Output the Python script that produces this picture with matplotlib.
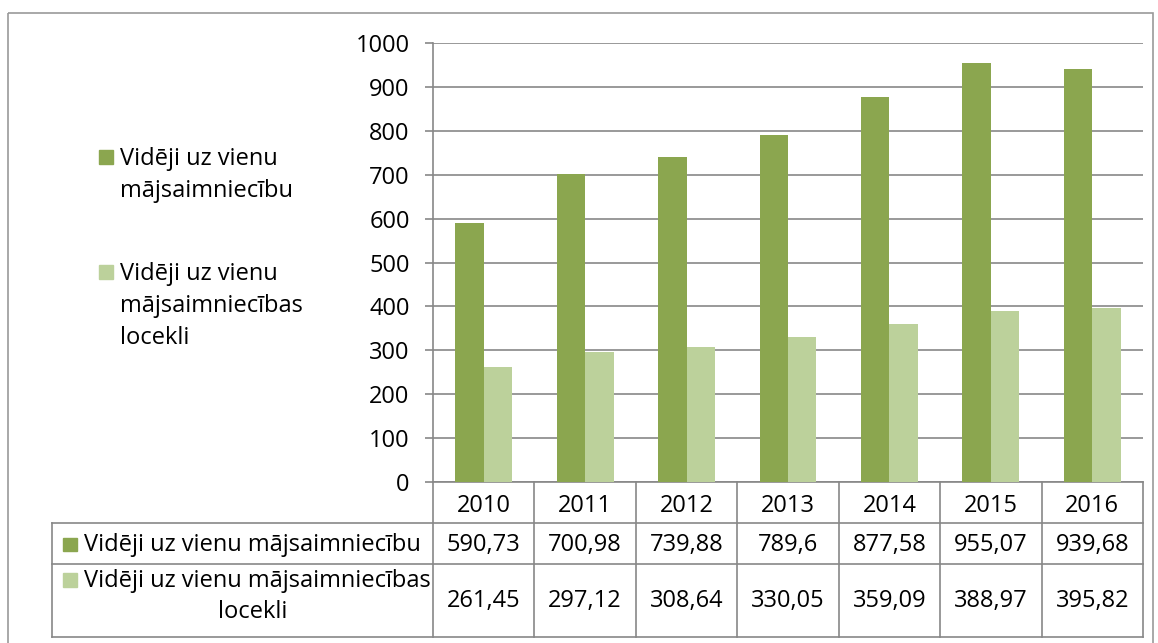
import numpy as np
import matplotlib.pyplot as plt
from matplotlib.patches import Rectangle

# dati
years = ["2010", "2011", "2012", "2013", "2014", "2015", "2016"]
per_household = [590.73, 700.98, 739.88, 789.6, 877.58, 955.07, 939.68]
per_member = [261.45, 297.12, 308.64, 330.05, 359.09, 388.97, 395.82]
label_household = "Vidēji uz vienu mājsaimniecību"
label_member = "Vidēji uz vienu mājsaimniecības locekli"
yticks = [0, 100, 200, 300, 400, 500, 600, 700, 800, 900, 1000]

dark = "#8BA64F"
light = "#BCD19B"
grid_c = "#878787"
fs = 17
plt.rcParams['font.family'] = ['Open Sans', 'DejaVu Sans']

W, H = 1158, 643
fig = plt.figure(figsize=(W / 100, H / 100), dpi=100)

# plot area in pixels
x0, x1, ytop, ybot = 433, 1143, 43, 482
ax = fig.add_axes([x0 / W, 1 - ybot / H, (x1 - x0) / W, (ybot - ytop) / H])
x = np.arange(len(years))
bw = 0.28
ax.bar(x - bw / 2, per_household, bw, color=dark, zorder=3)
ax.bar(x + bw / 2, per_member, bw, color=light, zorder=3)
ax.set_xlim(-0.5, len(years) - 0.5)
ax.set_ylim(0, 1000)
ax.set_yticks(yticks)
ax.set_xticks([])
ax.yaxis.grid(True, color=grid_c, linewidth=1.2)
ax.set_axisbelow(True)
for s in ["top", "right"]:
    ax.spines[s].set_visible(False)
ax.spines["left"].set_color(grid_c)
ax.spines["bottom"].set_color(grid_c)
ax.spines["left"].set_linewidth(1.2)
ax.spines["bottom"].set_linewidth(1.2)
ax.tick_params(axis="y", length=5.8, width=1.2, color=grid_c, labelsize=fs, pad=11)

# overlay in pixel coordinates for table, legend, frame
ov = fig.add_axes([0, 0, 1, 1])
ov.set_xlim(0, W)
ov.set_ylim(H, 0)
ov.axis("off")

# outer frame
ov.add_patch(Rectangle((8, 13), 1145, 640, fill=False, edgecolor="#9a9a9a", lw=1.2))

# table
colw = (x1 - x0) / len(years)
r0, r1, r2, r3 = ybot, 523, 564, 637
lx = 52
lc = dict(color=grid_c, lw=1.2)
for i in range(len(years) + 1):
    xx = x0 + i * colw
    ov.plot([xx, xx], [r0, r3], **lc)
ov.plot([lx, lx], [r1, r3], **lc)
for yy in [r1, r2, r3]:
    ov.plot([lx, x1], [yy, yy], **lc)
for i, yr in enumerate(years):
    cx = x0 + (i + 0.5) * colw
    ov.text(cx, 512, yr, ha="center", va="baseline", fontsize=fs)
    ov.text(cx, 551, str(per_household[i]).replace(".", ","),
            ha="center", va="baseline", fontsize=fs)
    ov.text(cx, (r2 + r3) / 2, str(per_member[i]).replace(".", ","),
            ha="center", va="center", fontsize=fs)
ov.add_patch(Rectangle((63, 538), 14, 13, color=dark))
ov.text(84, 551, label_household, ha="left", va="baseline", fontsize=fs)
ov.add_patch(Rectangle((63, 573), 14, 14, color=light))
ov.text(84, 587, "Vidēji uz vienu mājsaimniecības", ha="left", va="baseline", fontsize=fs)
ov.text(253, 618, "locekli", ha="center", va="baseline", fontsize=fs)

# legend
ov.add_patch(Rectangle((99, 150), 14, 14, color=dark))
for j, line in enumerate(["Vidēji uz vienu", "mājsaimniecību"]):
    ov.text(120, 165 + 32 * j, line, ha="left", va="baseline", fontsize=fs)
ov.add_patch(Rectangle((99, 265), 14, 14, color=light))
for j, line in enumerate(["Vidēji uz vienu", "mājsaimniecības", "locekli"]):
    ov.text(120, 280 + 32 * j, line, ha="left", va="baseline", fontsize=fs)

fig.savefig("out.png", dpi=100)
